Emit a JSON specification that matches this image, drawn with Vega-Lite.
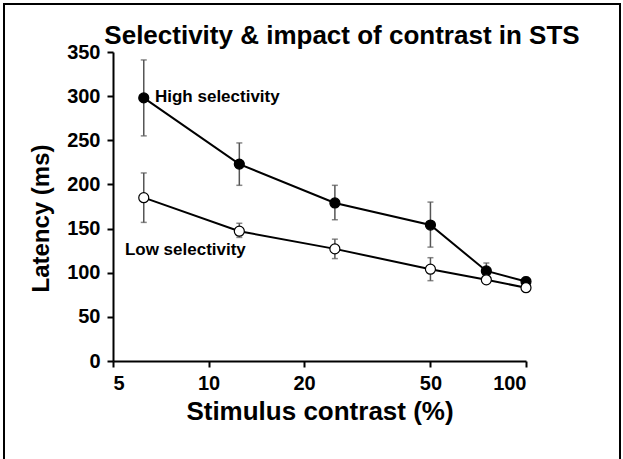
{
  "$schema": "https://vega.github.io/schema/vega-lite/v6.json",
  "autosize": {"type": "none"},
  "width": 616,
  "height": 456,
  "padding": {"left": 4, "top": 4, "right": 3, "bottom": -1},
  "background": "white",
  "title": {
    "text": "Selectivity & impact of contrast in STS",
    "font": "Liberation Sans",
    "fontSize": 26,
    "fontWeight": "bold",
    "color": "black",
    "frame": "group",
    "anchor": "middle",
    "baseline": "alphabetic",
    "orient": "top",
    "offset": -66,
    "dx": 30
  },
  "config": {
    "view": {"stroke": "black", "strokeWidth": 2},
    "font": "Liberation Sans",
    "axis": {
      "domainColor": "black",
      "domainWidth": 2,
      "tickColor": "black",
      "tickWidth": 2,
      "tickSize": 6,
      "labelFont": "Liberation Sans",
      "labelFontWeight": "bold",
      "labelFontSize": 20,
      "labelColor": "black",
      "titleFont": "Liberation Sans",
      "titleFontWeight": "bold",
      "titleColor": "black",
      "grid": false
    }
  },
  "datasets": {
    "lat": [
      {"contrast": 6.25, "latency": 298, "lo": 255, "hi": 341, "series": "High selectivity"},
      {"contrast": 12.5, "latency": 223, "lo": 199, "hi": 247, "series": "High selectivity"},
      {"contrast": 25, "latency": 179, "lo": 160, "hi": 199, "series": "High selectivity"},
      {"contrast": 50, "latency": 154, "lo": 129, "hi": 180, "series": "High selectivity"},
      {"contrast": 75, "latency": 102, "lo": 93, "hi": 111, "series": "High selectivity"},
      {"contrast": 100, "latency": 90, "lo": 85, "hi": 95, "series": "High selectivity"},
      {"contrast": 6.25, "latency": 185, "lo": 157, "hi": 213, "series": "Low selectivity"},
      {"contrast": 12.5, "latency": 147, "lo": 140, "hi": 156, "series": "Low selectivity"},
      {"contrast": 25, "latency": 127, "lo": 116, "hi": 138, "series": "Low selectivity"},
      {"contrast": 50, "latency": 104, "lo": 91, "hi": 117, "series": "Low selectivity"},
      {"contrast": 75, "latency": 92, "lo": 88, "hi": 96, "series": "Low selectivity"},
      {"contrast": 100, "latency": 83, "lo": 80, "hi": 87, "series": "Low selectivity"}
    ],
    "notes": [
      {"contrast": 6.78, "latency": 299, "label": "High selectivity"},
      {"contrast": 5.45, "latency": 126, "label": "Low selectivity"}
    ]
  },
  "layer": [
    {
      "data": {"name": "lat"},
      "mark": {"type": "errorbar", "ticks": {"color": "#555555", "size": 6, "thickness": 1.5}, "rule": {"color": "#555555", "strokeWidth": 1.5}},
      "encoding": {
        "x": {
          "field": "contrast", "type": "quantitative",
          "scale": {"type": "log", "domain": [5, 100], "range": [109, 522], "nice": false},
          "axis": {"values": [5, 10, 20, 50, 100], "format": "d", "offset": -99, "labelPadding": 6, "title": "Stimulus contrast (%)", "titleFontSize": 26, "titlePadding": 5}
        },
        "y": {
          "field": "lo", "type": "quantitative",
          "scale": {"domain": [0, 350], "range": [357, 48], "nice": false, "zero": false},
          "axis": {"values": [0, 50, 100, 150, 200, 250, 300, 350], "offset": -109, "labelPadding": 7, "title": "Latency (ms)", "titleFontSize": 24, "titlePadding": 13, "titleY": 214}
        },
        "y2": {"field": "hi"},
        "detail": {"field": "series"}
      }
    },
    {
      "data": {"name": "lat"},
      "mark": {"type": "line", "color": "black", "strokeWidth": 2},
      "encoding": {
        "x": {"field": "contrast", "type": "quantitative"},
        "y": {"field": "latency", "type": "quantitative"},
        "detail": {"field": "series"}
      }
    },
    {
      "data": {"name": "lat"},
      "mark": {"type": "point", "shape": "circle", "filled": true, "size": 100, "stroke": "black", "strokeWidth": 1.2, "opacity": 1},
      "encoding": {
        "x": {"field": "contrast", "type": "quantitative"},
        "y": {"field": "latency", "type": "quantitative"},
        "fill": {"field": "series", "type": "nominal", "scale": {"domain": ["High selectivity", "Low selectivity"], "range": ["black", "white"]}, "legend": null}
      }
    },
    {
      "data": {"name": "notes"},
      "mark": {"type": "text", "align": "left", "baseline": "middle", "font": "Liberation Sans", "fontWeight": "bold", "fontSize": 17, "color": "black"},
      "encoding": {
        "x": {"field": "contrast", "type": "quantitative"},
        "y": {"field": "latency", "type": "quantitative"},
        "text": {"field": "label"}
      }
    }
  ]
}
